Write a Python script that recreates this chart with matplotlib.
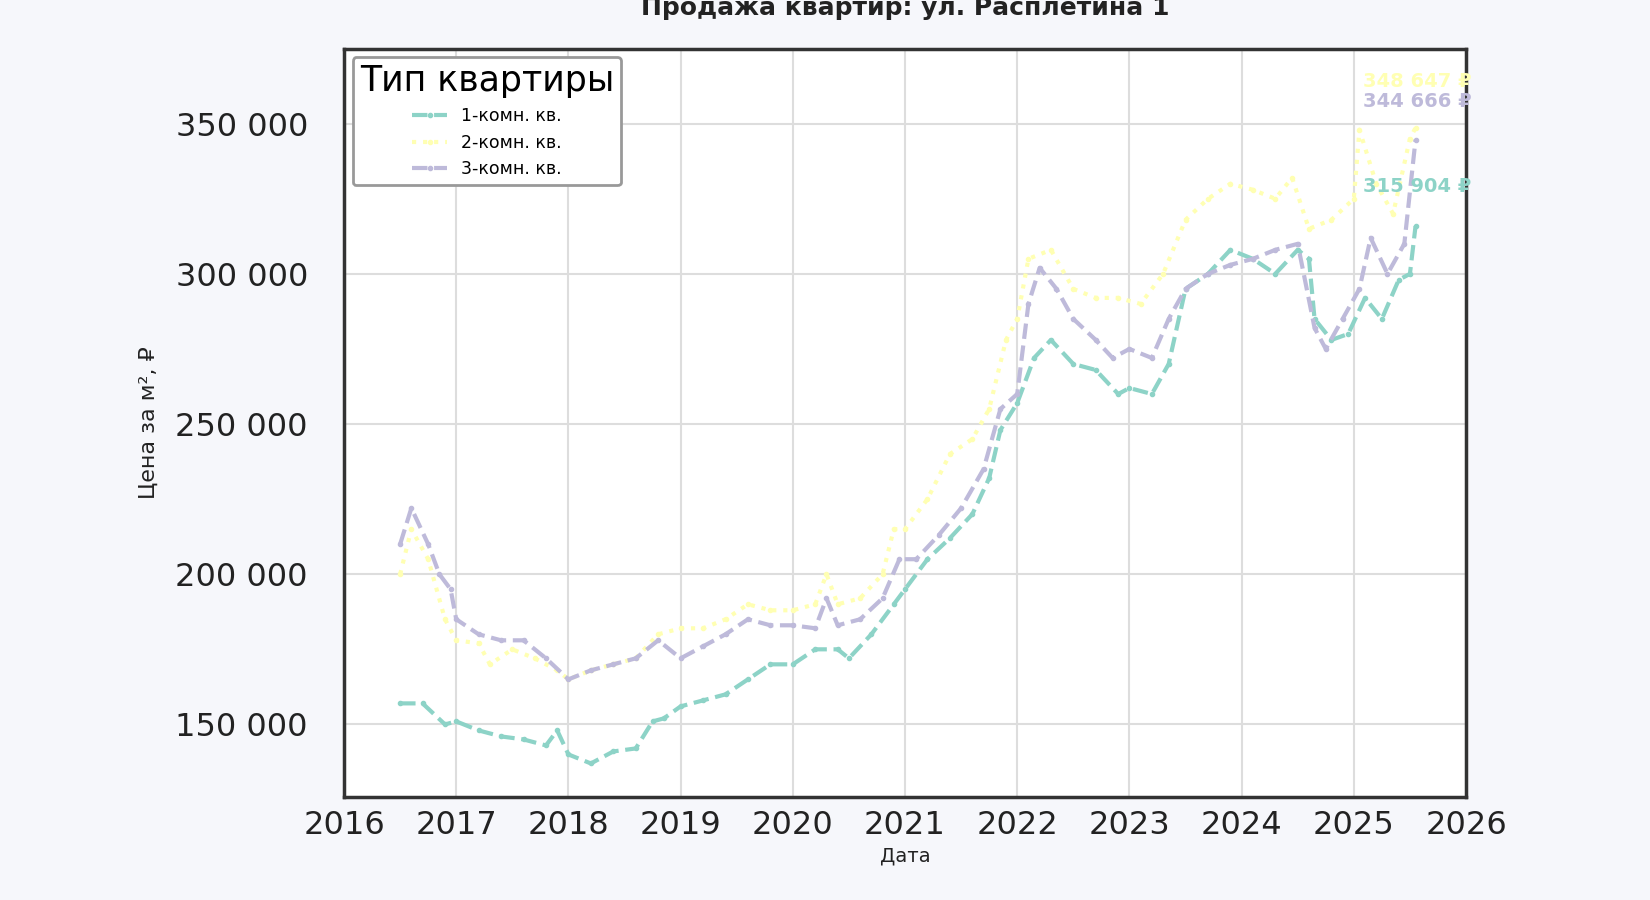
import matplotlib
matplotlib.use("Agg")
import matplotlib.pyplot as plt
from matplotlib.ticker import FuncFormatter

x1 = [2016.5,2016.7,2016.9,2017.0,2017.2,2017.4,2017.6,2017.8,2017.9,2018.0,2018.2,2018.4,2018.6,2018.75,2018.85,2019.0,2019.2,2019.4,2019.6,2019.8,2020.0,2020.2,2020.4,2020.5,2020.7,2020.9,2021.0,2021.2,2021.4,2021.6,2021.75,2021.85,2022.0,2022.15,2022.3,2022.5,2022.7,2022.9,2023.0,2023.2,2023.35,2023.5,2023.7,2023.9,2024.1,2024.3,2024.5,2024.6,2024.65,2024.8,2024.95,2025.1,2025.25,2025.4,2025.5,2025.55]
y1 = [157,157,150,151,148,146,145,143,148,140,137,141,142,151,152,156,158,160,165,170,170,175,175,172,180,190,195,205,212,220,232,248,257,272,278,270,268,260,262,260,270,295,300,308,305,300,308,305,285,278,280,292,285,298,300,315.904]

x2 = [2016.5,2016.6,2016.75,2016.9,2017.0,2017.2,2017.3,2017.5,2017.7,2017.9,2018.0,2018.2,2018.4,2018.6,2018.8,2019.0,2019.2,2019.4,2019.6,2019.8,2020.0,2020.2,2020.3,2020.4,2020.6,2020.8,2020.9,2021.0,2021.2,2021.4,2021.6,2021.75,2021.9,2022.0,2022.1,2022.3,2022.5,2022.7,2022.9,2023.1,2023.3,2023.5,2023.7,2023.9,2024.1,2024.3,2024.45,2024.6,2024.8,2025.0,2025.05,2025.2,2025.35,2025.5,2025.55]
y2 = [200,215,205,185,178,177,170,175,172,168,165,168,170,172,180,182,182,185,190,188,188,190,200,190,192,200,215,215,225,240,245,255,278,285,305,308,295,292,292,290,300,318,325,330,328,325,332,315,318,325,348,330,320,345,348.647]

x3 = [2016.5,2016.6,2016.75,2016.85,2016.95,2017.0,2017.2,2017.4,2017.6,2017.8,2018.0,2018.2,2018.4,2018.6,2018.8,2019.0,2019.2,2019.4,2019.6,2019.8,2020.0,2020.2,2020.3,2020.4,2020.6,2020.8,2020.95,2021.1,2021.3,2021.5,2021.7,2021.85,2022.0,2022.1,2022.2,2022.35,2022.5,2022.7,2022.85,2023.0,2023.2,2023.35,2023.5,2023.7,2023.9,2024.1,2024.3,2024.5,2024.65,2024.75,2024.9,2025.05,2025.15,2025.3,2025.45,2025.55]
y3 = [210,222,210,200,195,185,180,178,178,172,165,168,170,172,178,172,176,180,185,183,183,182,192,183,185,192,205,205,213,222,235,255,260,290,302,295,285,278,272,275,272,285,295,300,303,305,308,310,282,275,285,295,312,300,310,344.666]

labels = ["1-комн. кв.", "2-комн. кв.", "3-комн. кв."]
colors = ["#8dd3c7", "#ffffb3", "#bebada"]
styles = ["--", ":", "--"]
end_labels = ["315 904 ₽", "348 647 ₽", "344 666 ₽"]
label_y = [329000, 364000, 357500]

fig = plt.figure(figsize=(16.5, 9), dpi=100, facecolor="#f6f7fb")
ax = fig.add_axes([0.2085, 0.115, 0.68, 0.831])
ax.set_facecolor("white")

for xs, ys, c, ls, lab in zip([x1, x2, x3], [y1, y2, y3], colors, styles, labels):
    ax.plot(xs, [v * 1000 for v in ys], ls, color=c, lw=3, marker="o", ms=3, label=lab)

for xs, ys, c, t, ly in zip([x1, x2, x3], [y1, y2, y3], colors, end_labels, label_y):
    ax.text(2026.05, ly, t, color=c, fontsize=14, fontweight="bold", ha="right", va="center")

ax.set_xlim(2016, 2026)
ax.set_ylim(126000, 375000)
ax.set_xticks(range(2016, 2027))
ax.set_yticks([150000, 200000, 250000, 300000, 350000])
ax.yaxis.set_major_formatter(FuncFormatter(lambda v, p: f"{int(v):,}".replace(",", " ")))
ax.tick_params(labelsize=23, colors="#222222", length=0, pad=10)
ax.tick_params(axis="y", pad=26)
ax.grid(True, color="#dddddd", lw=1.5)
for s in ax.spines.values():
    s.set_color("#333333")
    s.set_linewidth(2.5)

ax.set_xlabel("Дата", fontsize=14, color="#222222")
ax.set_ylabel("Цена за м², ₽", fontsize=16, color="#222222", labelpad=12)
ax.set_title("Продажа квартир: ул. Расплетина 1", fontsize=18, fontweight="bold", color="#222222", pad=24)

leg = ax.legend(title="Тип квартиры", fontsize=12.5, title_fontsize=25, loc="upper left",
                frameon=True, fancybox=True, edgecolor="#999999", framealpha=1)
leg.get_frame().set_linewidth(2)

fig.savefig("out.png", dpi=100, facecolor=fig.get_facecolor())
